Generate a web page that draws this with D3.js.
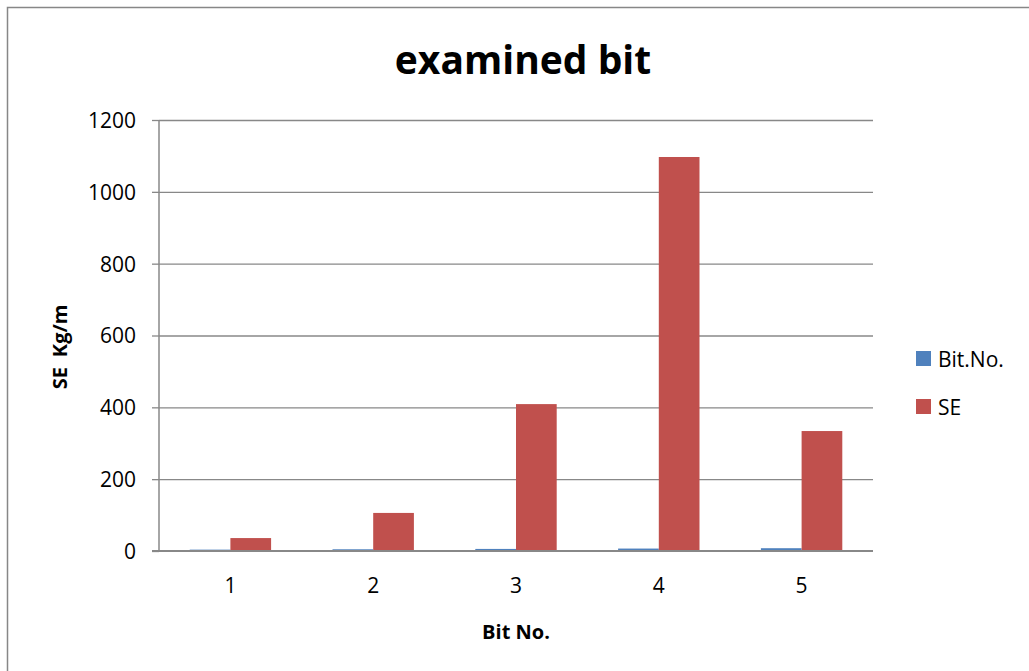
<!DOCTYPE html>
<html><head><meta charset="utf-8">
<script src="https://cdn.jsdelivr.net/npm/d3@7"></script>
<style>body{margin:0;background:#fff;} text{font-family:"Open Sans","Liberation Sans",sans-serif;}</style>
</head><body>
<svg id="c" width="1029" height="671"></svg>
<script>
const categories = ["1","2","3","4","5"];
const seriesNames = ["Bit.No.","SE"];
const bitNo = [1,2,3,4,5];
const se = [36,106,409,1097,334];
const yTicks = [0,200,400,600,800,1000,1200];
const colors = ["#4F81BD","#C0504D"];

const svg = d3.select("#c");
svg.append("rect").attr("x",7.5).attr("y",7.5).attr("width",1100).attr("height",1100)
  .attr("fill","#fff").attr("stroke","#878787").attr("stroke-width",1.5);

const m = {l:159,r:873,t:120,b:551};
const x = d3.scaleBand().domain(categories).range([m.l,m.r]).paddingInner(0.43).paddingOuter(0.215);
const xs = d3.scaleBand().domain(seriesNames).range([0,x.bandwidth()]);
const y = d3.scaleLinear().domain([0,1200]).range([m.b,m.t]);

// grid
svg.append("g").selectAll("line").data(yTicks.filter(d=>d>0)).join("line")
  .attr("x1",m.l).attr("x2",m.r).attr("y1",d=>y(d)+0.5).attr("y2",d=>y(d)+0.5)
  .attr("stroke","#888").attr("stroke-width",1.3);

// y axis
const ya = svg.append("g").attr("transform",`translate(${m.l},0)`)
  .call(d3.axisLeft(y).tickValues(yTicks).tickFormat(d3.format("d")).tickSize(7).tickPadding(16));
ya.select(".domain").attr("stroke","#888").attr("stroke-width",1.5).attr("d",`M-0,${m.t}V${m.b}`);
ya.selectAll(".tick line").attr("stroke","#888").attr("stroke-width",1.3);
ya.selectAll(".tick text").attr("font-size",21).attr("fill","#000").attr("dy","0.35em");

// bars
const data = categories.map((c,i)=>({c, vals:[bitNo[i], se[i]]}));
const g = svg.append("g").selectAll("g").data(data).join("g")
  .attr("transform",d=>`translate(${x(d.c)},0)`);
g.selectAll("rect").data(d=>d.vals.map((v,j)=>({k:seriesNames[j],v,j}))).join("rect")
  .attr("x",d=>xs(d.k)).attr("width",xs.bandwidth())
  .attr("y",d=>y(d.v)-(d.j===0?1:0)).attr("height",d=>m.b-y(d.v)+(d.j===0?1:0))
  .attr("fill",d=>colors[d.j]);

// x axis
const xa = svg.append("g").attr("transform",`translate(0,${m.b})`)
  .call(d3.axisBottom(x).tickSize(0).tickPadding(27));
xa.select(".domain").attr("stroke","#888").attr("stroke-width",1.8).attr("d",`M${m.l-7},0H${m.r}`);
xa.selectAll(".tick text").attr("font-size",21).attr("fill","#000");

// titles
svg.append("text").attr("x",523).attr("y",74).attr("text-anchor","middle")
  .attr("font-size",39).attr("font-weight","bold").text("examined bit");
svg.append("text").attr("x",516).attr("y",639).attr("text-anchor","middle")
  .attr("font-size",20).attr("font-weight","bold").text("Bit No.");
const yt = svg.append("text").attr("transform","translate(67,347) rotate(-90)").attr("text-anchor","middle")
  .attr("font-size",20).attr("font-weight","bold");
yt.append("tspan").text("SE");
yt.append("tspan").attr("dx",10).text("Kg/m");

// legend
const lg = svg.append("g").selectAll("g").data(seriesNames).join("g")
  .attr("transform",(d,i)=>`translate(916,${351+i*48})`);
lg.append("rect").attr("width",15).attr("height",15).attr("fill",(d,i)=>colors[i]);
lg.append("text").attr("x",22).attr("y",15.5).attr("font-size",21).text(d=>d);
</script>
</body></html>
